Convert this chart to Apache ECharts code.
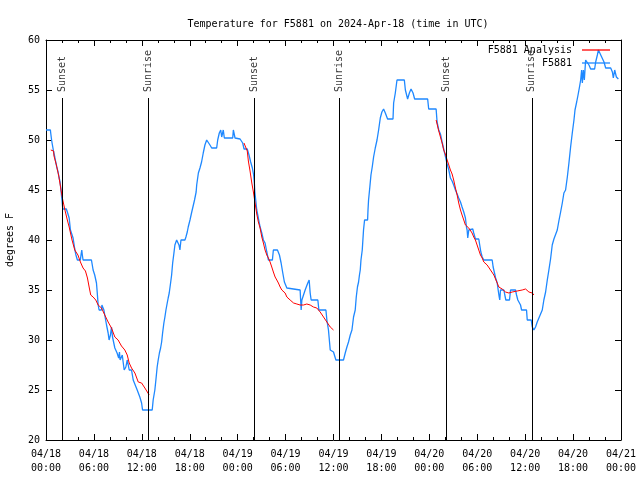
<!DOCTYPE html>
<html>
<head>
<meta charset="utf-8">
<script src="https://cdn.jsdelivr.net/npm/echarts@6/dist/echarts.min.js"></script>
<style>html,body{margin:0;padding:0;background:#fff}#c{width:640px;height:480px}</style>
</head>
<body>
<div id="c"></div>
<script>
// hours since 2024-04-18 00:00 UTC
const xTickLabels = ['04/18\n00:00','04/18\n06:00','04/18\n12:00','04/18\n18:00','04/19\n00:00','04/19\n06:00','04/19\n12:00','04/19\n18:00','04/20\n00:00','04/20\n06:00','04/20\n12:00','04/20\n18:00','04/21\n00:00'];
const sunsetHours = [2.0, 26.09, 50.18];
const sunriseHours = [12.79, 36.75, 60.84];

const obsHours = [0,0.55,0.59,0.7,0.76,0.96,1.1,1.22,1.35,1.51,1.65,1.76,1.85,1.93,2.0,2.1,2.55,2.75,2.9,3.06,3.39,3.6,3.75,3.93,4.3,4.4,4.48,4.55,4.64,5.69,5.9,6.1,6.32,6.42,6.53,6.65,6.95,7.0,7.15,7.25,7.4,7.58,7.78,7.9,8.07,8.2,8.33,8.62,8.9,9.1,9.2,9.28,9.55,9.66,9.79,10.0,10.17,10.3,10.42,10.71,10.92,11.1,11.42,11.6,11.75,11.97,12.09,13.3,13.42,13.63,13.76,13.92,14.05,14.2,14.35,14.48,14.6,14.76,14.89,15.02,15.18,15.3,15.43,15.6,15.73,15.86,16.02,16.14,16.36,16.48,16.65,16.77,16.9,17.4,17.52,17.69,17.81,18.03,18.25,18.44,18.6,18.8,18.87,19.08,19.28,19.48,19.69,19.9,20.12,20.32,20.53,20.75,21.37,21.5,21.7,21.88,22.0,22.2,22.33,23.38,23.46,23.67,24.3,24.63,24.8,25.2,25.42,25.63,25.84,26.0,26.09,26.15,26.22,26.39,26.59,26.81,27.02,27.22,27.43,27.65,27.85,28.35,28.47,28.98,29.23,29.44,29.65,29.85,30.16,30.36,31.82,31.95,32.04,32.45,32.78,32.95,33.08,33.2,34.04,34.17,35.05,35.17,35.37,35.59,36.0,36.3,37.25,37.47,37.68,37.88,38.1,38.31,38.51,38.72,38.85,39.0,39.14,39.25,39.35,39.44,39.6,39.76,39.89,40.27,40.32,40.39,40.55,40.69,40.85,41.02,41.23,41.45,41.65,41.86,42.06,42.27,42.49,42.77,43.45,43.53,43.74,43.95,44.87,45.0,45.28,45.5,45.71,45.96,46.16,47.79,47.92,48.85,48.97,49.18,49.39,49.6,49.8,50.0,50.23,50.44,50.64,50.85,51.05,51.27,51.48,51.68,51.9,52.1,52.31,52.52,52.65,52.73,52.81,52.94,53.44,53.56,53.77,54.19,54.31,54.45,54.62,54.82,55.87,55.99,56.16,56.3,56.5,56.62,56.75,56.82,56.91,57.33,57.45,57.58,58.04,58.17,58.79,58.92,59.08,59.3,59.42,59.55,60.17,60.26,60.76,60.89,61.09,61.3,61.51,61.72,61.93,62.14,62.34,62.56,62.77,62.97,63.18,63.39,63.6,63.81,64.02,64.22,64.44,64.65,64.85,65.06,65.28,65.48,65.69,65.9,66.11,66.24,66.45,66.62,66.78,66.95,67.07,67.16,67.29,67.41,67.57,67.78,67.99,68.2,68.7,68.83,69.04,69.17,69.37,69.58,69.87,70.08,70.71,70.92,71.04,71.21,71.42,71.67];
const obsTemps = [51,51,50.7,50,49.7,48.8,48.3,47.8,47.3,46.8,46.2,45.8,45.2,44.5,44,43.1,43.1,42.6,42.2,41,40.2,39.1,38.5,38,38,38.6,39,38.5,38,38,37,36.5,35.7,34.7,33.5,33,33,33.5,33.5,33,32.3,31.5,30.7,30,30.5,31.3,30.3,29.2,28.7,28.2,28.8,28,28.5,27.8,27,27.3,28,27.5,27,27,26,25.8,25,24.8,24.3,23.7,23,23,24,25,26,27.3,28,28.7,29.2,29.8,30.7,31.7,32.3,33,33.7,34.2,34.7,35.7,36.5,37.7,38.7,39.5,40,39.8,39.5,39,40,40,40.3,40.8,41.3,42,42.8,43,44,44.8,45.5,46.7,47.2,47.8,48.7,49.5,50,50.1,49.5,49.2,49.2,50,50.7,51,50.3,51,50.2,50.2,51,50.2,50.1,49.7,49.1,49.1,48.5,47.8,47.2,46.5,45.7,44.8,44.3,43,42.2,41.3,40.7,40,39.7,38.8,38,38,39,39,38.5,37.7,36.7,35.8,35.2,35,35,33,34,35,35.7,36,34.7,34,34,33,33,32,31,29,28.8,28,28,28.7,29.3,29.8,30.5,31,32.3,33,34.3,35.3,35.8,36.5,37,38,39,41,42,42,43,44,45.3,46.5,47.3,48.3,49.2,50,51,52.2,52.8,53.1,52.7,52.1,52.1,53.7,54.7,56,56,55,54.1,54.7,55.1,54.7,54.1,54.1,53.1,53.1,51.8,51,50.6,49.8,49.1,48.4,47.6,47,46.2,45.9,45.5,45,44.6,44.2,43.8,43.3,42.8,42.2,41.3,41,40.2,41,41.1,40.7,40.1,40.1,39.5,38.8,38.3,38,38,37.3,36.7,36.2,35.7,35,34.3,34,35,35,34.5,34,34,35,35,34.5,34,34,33.5,33,33,32,32,31.3,31,31.3,31.8,32,32.6,33,34,34.8,36,37,38.1,39.5,40.1,40.3,41,41.9,42.8,43.7,44.7,45,46.3,47.7,49.3,50.7,52,53,53.8,54.5,55.2,56,57,55.7,57,56,58,57.8,57.5,57.1,57.1,57.8,58.5,59,59.1,58.3,57.8,57.2,57.2,56.8,56.2,57,56.3,56.1];

const anl1Hours = [0.6,0.95,1.0,1.3,1.6,1.9,2.1,2.4,2.7,2.9,3.26,3.6,4.0,4.31,4.64,4.94,5.19,5.4,5.6,5.9,6.23,6.53,6.95,7.36,7.78,8.2,8.62,9.03,9.45,9.87,10.17,10.42,10.71,11.13,11.55,11.97,12.38,12.92];
const anl1Temps = [49.0,48.9,48.4,47.5,46.4,44.9,44.0,42.9,41.9,41.3,40.0,39.0,38.5,37.8,37.2,36.9,36.2,35.3,34.5,34.3,34.0,33.5,33.2,32.5,31.8,31.2,30.3,30.0,29.4,29.0,28.5,27.7,27.2,26.7,25.8,25.7,25.2,24.5];
const anl2Hours = [24.79,25.0,25.2,25.34,25.55,25.77,25.97,26.18,26.39,26.59,26.81,27.02,27.22,27.43,27.65,27.85,28.06,28.27,28.47,28.69,28.9,29.1,29.32,29.53,29.74,29.94,30.16,30.57,31.0,31.41,31.82,32.24,32.66,33.08,33.49,33.91,34.33,34.75,35.17,35.59,36.0];
const anl2Temps = [49.7,49.5,48.9,47.9,46.9,45.7,44.8,43.7,42.6,41.8,41.2,40.3,39.7,39.0,38.5,38.2,37.8,37.3,36.8,36.3,36.0,35.7,35.3,35.0,34.8,34.7,34.3,34.0,33.7,33.6,33.5,33.5,33.6,33.5,33.3,33.2,32.8,32.3,31.8,31.3,31.0];
const anl3Hours = [48.85,48.97,49.18,49.39,49.6,49.8,50.0,50.23,50.44,50.64,50.85,51.05,51.27,51.48,51.68,51.9,52.1,52.31,52.52,52.73,52.94,53.15,53.35,53.56,53.77,53.98,54.19,54.4,54.62,54.82,55.24,55.66,56.08,56.5,56.7,57.12,57.54,57.96,58.38,59.0,59.63,60.05,60.47,60.89,61.1];
const anl3Temps = [52.0,51.6,50.9,50.3,49.7,49.0,48.6,48.0,47.5,47.0,46.6,46.0,45.2,44.5,43.7,43.0,42.5,42.0,41.5,41.3,41.2,41.0,40.7,40.3,40.0,39.5,39.0,38.5,38.2,37.8,37.5,37.0,36.5,35.7,35.3,35.1,34.8,34.7,34.8,34.9,35.0,35.1,34.8,34.7,34.5];

const FONT = 'DejaVu Sans Mono';
const zip = (a, b) => a.map((v, i) => [v, b[i]]);
const sunLineTop = 54.2, sunLabelY = 54.8;
const sunLines = sunsetHours.concat(sunriseHours).map(h => [{coord: [h, 20]}, {coord: [h, sunLineTop]}]);
const sunLabels = sunsetHours.map(h => [h, sunLabelY, 'Sunset']).concat(sunriseHours.map(h => [h, sunLabelY, 'Sunrise']));

const red = '#ff0000', blue = '#1e88ff';
const anlSeries = [zip(anl1Hours, anl1Temps), zip(anl2Hours, anl2Temps), zip(anl3Hours, anl3Temps)].map(d => ({
  name: 'F5881 Analysis', type: 'line', data: d, symbol: 'none', showSymbol: false,
  lineStyle: {color: red, width: 1}, itemStyle: {color: red}, z: 3, silent: true, animation: false
}));

const axisCommon = {
  axisLine: {show: true, onZero: false, lineStyle: {color: '#000', width: 1}},
  splitLine: {show: false}
};
const LEG_ICON = 'path://M0 0L28 0L28 1.3L0 1.3Z';

const chart = echarts.init(document.getElementById('c'), null, {renderer: 'canvas'});
chart.setOption({
  animation: false,
  backgroundColor: '#fff',
  title: {
    text: 'Temperature for F5881 on 2024-Apr-18 (time in UTC)',
    left: 333, top: 14, textAlign: 'center',
    textStyle: {fontFamily: FONT, fontSize: 10, fontWeight: 'normal', color: '#000'}
  },
  grid: {left: 46, right: 19, top: 40, bottom: 40, containLabel: false, outerBoundsMode: 'none'},
  legend: {
    orient: 'vertical', right: 30, top: 45, align: 'right', padding: 0,
    itemWidth: 28, itemHeight: 10, itemGap: 3, symbolKeepAspect: true,
    textStyle: {fontFamily: FONT, fontSize: 10, color: '#000', padding: [0, 5, 0, 0]},
    data: [{name: 'F5881 Analysis', icon: LEG_ICON}, {name: 'F5881', icon: LEG_ICON}]
  },
  xAxis: [
    Object.assign({}, axisCommon, {
      type: 'value', min: 0, max: 72, interval: 6, position: 'bottom',
      axisTick: {show: true, inside: true, length: 6, lineStyle: {color: '#000'}},
      minorTick: {show: true, splitNumber: 3, length: 3, lineStyle: {color: '#000'}},
      minorSplitLine: {show: false},
      axisLabel: {
        margin: 7, fontFamily: FONT, fontSize: 10, color: '#000', lineHeight: 14,
        formatter: v => xTickLabels[Math.round(v / 6)]
      }
    }),
    Object.assign({}, axisCommon, {
      type: 'value', min: 0, max: 72, interval: 6, position: 'top',
      axisTick: {show: true, inside: true, length: 6, lineStyle: {color: '#000'}},
      minorTick: {show: true, splitNumber: 3, length: 3, lineStyle: {color: '#000'}},
      axisLabel: {show: false}
    })
  ],
  yAxis: [
    Object.assign({}, axisCommon, {
      type: 'value', min: 20, max: 60, interval: 5, position: 'left',
      name: 'degrees F', nameLocation: 'middle', nameGap: 31, nameRotate: 90,
      nameTextStyle: {fontFamily: FONT, fontSize: 10, color: '#000'},
      axisTick: {show: true, inside: true, length: 6, lineStyle: {color: '#000'}},
      axisLabel: {margin: 6, fontFamily: FONT, fontSize: 10, color: '#000'}
    }),
    Object.assign({}, axisCommon, {
      type: 'value', min: 20, max: 60, interval: 5, position: 'right',
      axisTick: {show: true, inside: true, length: 6, lineStyle: {color: '#000'}},
      axisLabel: {show: false}
    })
  ],
  series: anlSeries.concat([
    {
      name: 'F5881', type: 'line', data: zip(obsHours, obsTemps), symbol: 'none', showSymbol: false,
      lineStyle: {color: blue, width: 1.3}, itemStyle: {color: blue}, z: 2, silent: true,
      markLine: {
        silent: true, symbol: ['none', 'none'], animation: false,
        lineStyle: {color: '#000', width: 1, type: 'solid'},
        label: {show: false},
        data: sunLines
      }
    },
    {
      name: 'sun', type: 'scatter', data: sunLabels, symbolSize: 1,
      itemStyle: {color: 'rgba(0,0,0,0)'}, silent: true, z: 4,
      label: {
        show: true, position: 'inside', rotate: 90, align: 'left', verticalAlign: 'middle',
        fontFamily: FONT, fontSize: 10, color: '#000',
        formatter: p => p.data[2]
      },
      labelLayout: {hideOverlap: false}
    }
  ])
});
</script>
</body>
</html>
